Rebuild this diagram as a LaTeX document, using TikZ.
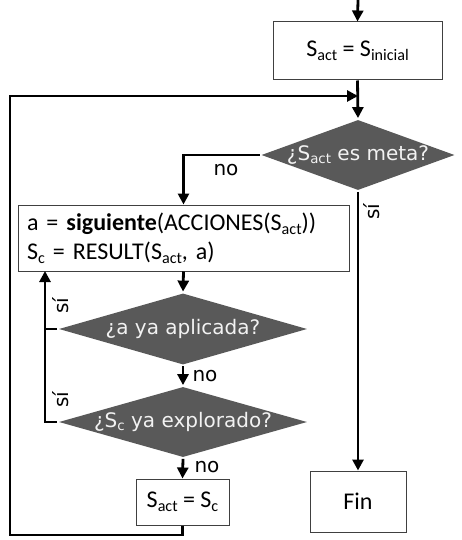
\documentclass[tikz,border=0pt]{standalone}
\usepackage{fontspec}
\setmainfont{Carlito}
\newfontfamily\verd{DejaVu Sans}
\usetikzlibrary{shapes.geometric,arrows.meta}
\definecolor{dgray}{HTML}{595959}
\newcommand{\dtext}[1]{\makebox[0pt]{#1}}
\newcommand{\low}[1]{\raisebox{-0.16em}{\scalebox{0.67}{#1}}}
\begin{document}
\begin{tikzpicture}[x=1pt, y=-1pt, line width=2.8pt, >={Triangle[length=11pt,width=11pt]}]
  \tikzset{
    box/.style={draw=black!75, line width=1pt, fill=white, inner sep=0pt,
      font=\fontsize{24}{29}\selectfont},
    ask/.style={diamond, fill=dgray, inner sep=0pt, text=black!5,
      font=\verd\fontsize{20}{24}\selectfont},
    lbl/.style={font=\verd\fontsize{20}{24}\selectfont, inner sep=0pt}
  }
  \useasboundingbox (0,0) rectangle (461,540);
  % nodes
  \coordinate (start) at (358,0);
  \node[box, minimum width=169, minimum height=58] (init) at (357.5,51)
    {S\low{act} = S\low{inicial}};
  \coordinate (merge) at (358,96);
  \node[ask, minimum width=194, minimum height=71] (meta) at (358,155)
    {\dtext{¿S\low{act} es meta?}};
  \node[box, minimum width=331, minimum height=66, text width=313, inner xsep=9pt,
    align=left] (succ) at (183.5,238)
    {a = \textbf{siguiente}(ACCIONES(S\low{act}))\\
     S\low{c} = RESULT(S\low{act}, a)};
  \node[ask, minimum width=249, minimum height=72] (apl) at (183,329)
    {\dtext{¿a ya aplicada?}};
  \node[ask, minimum width=249, minimum height=71] (expl) at (183,422)
    {\dtext{¿S\low{c} ya explorado?}};
  \node[box, minimum width=93, minimum height=46] (upd) at (182.5,502)
    {S\low{act} = S\low{c}};
  \node[box, minimum width=96, minimum height=61] (fin) at (358,501.5) {Fin};
  \coordinate (back) at (45,271);
  \coordinate (join) at (45,329);
  \coordinate (loop) at (10,535);
  % connectors
  \draw[->] (start) -- (init.north);
  \draw[->] (init.south) -- (meta.north);
  \draw[->] (meta.west) -| (succ.north);
  \draw[->] (meta.south) -- (fin.north);
  \draw[->] (succ.south) -- (apl.north);
  \draw[->] (apl.south) -- (expl.north);
  \draw[->] (expl.south) -- (upd.north);
  \draw[->] (apl.west) -| (back);
  \draw (expl.west) -| (join);
  \draw[->] (upd.south) |- (loop) |- (merge);
  % labels
  \node[lbl] (no1) at (226,170) {no};
  \node[lbl, rotate=90] (si1) at (372,212) {sí};
  \node[lbl] (no2) at (205,376) {no};
  \node[lbl] (no3) at (207,467) {no};
  \node[lbl, rotate=90] (si2) at (61,306) {sí};
  \node[lbl, rotate=90] (si3) at (61,400) {sí};
\end{tikzpicture}
\end{document}
